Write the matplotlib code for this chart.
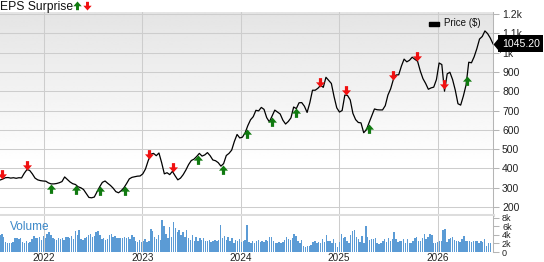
import numpy as np
import pandas as pd
import matplotlib
matplotlib.use('Agg')
import matplotlib.pyplot as plt
import matplotlib.dates as mdates
from matplotlib.path import Path
from matplotlib.markers import MarkerStyle
from matplotlib.lines import Line2D
from matplotlib.patches import Rectangle

plt.rcParams['font.family'] = ['Liberation Sans', 'DejaVu Sans']

# ---------------- data ----------------
price_start = '2021-07-22'
price_step = '10D'
price = [
    340, 345, 352, 353, 350, 352, 349, 352, 351, 375,
    394, 390, 372, 350, 341, 337, 335, 334, 325, 320,
    320, 322, 326, 332, 356, 343, 330, 321, 317, 305,
    300, 291, 270, 250, 248, 252, 278, 305, 328, 335,
    323, 312, 298, 280, 274, 285, 300, 322, 346, 354,
    357, 360, 361, 372, 397, 440, 474, 478, 466, 480,
    430, 372, 378, 368, 385, 362, 341, 350, 368, 392,
    420, 441, 448, 462, 478, 464, 470, 482, 466, 444,
    440, 430, 412, 425, 467, 478, 495, 540, 576, 558,
    562, 585, 622, 652, 668, 701, 698, 716, 706, 663,
    641, 672, 702, 692, 682, 650, 630, 643, 662, 718,
    710, 740, 741, 722, 690, 740, 805, 805, 815, 830,
    820, 872, 856, 840, 772, 714, 692, 700, 780, 778,
    755, 685, 653, 638, 636, 585, 600, 637, 672, 708,
    704, 703, 703, 725, 780, 812, 860, 884, 885, 930,
    966, 952, 960, 976, 965, 955, 905, 865, 840, 810,
    817, 821, 860, 946, 938, 800, 890, 898, 860, 805,
    735, 728, 775, 832, 950, 947, 978, 1020, 1070, 1083,
    1112, 1098, 1075, 1045.2,
]

volume_start = '2021-07-22'
volume_step = '7D'
volume_k = [
    4.0, 4.3, 3.6, 2.4, 2.2, 2.1, 2.0, 2.3, 3.2, 3.4,
    3.1, 3.3, 2.4, 2.2, 2.6, 2.1, 2.3, 3.0, 3.8, 3.2,
    3.4, 3.6, 2.9, 3.7, 3.3, 4.2, 4.6, 3.9, 3.2, 3.0,
    2.9, 3.2, 3.0, 3.4, 2.8, 3.5, 3.6, 3.3, 3.8, 3.1,
    5.0, 4.1, 5.2, 3.0, 2.9, 3.4, 3.6, 3.9, 4.2, 3.5,
    3.8, 4.8, 5.0, 3.9, 3.0, 3.2, 2.8, 3.1, 4.0, 4.2,
    3.6, 3.7, 3.2, 3.3, 3.4, 3.2, 3.5, 3.3, 3.6, 3.0,
    3.9, 3.6, 2.7, 2.3, 2.8, 2.4, 2.5, 3.1, 2.3, 2.6,
    5.3, 5.0, 3.5, 3.1, 3.9, 2.9, 7.6, 6.0, 4.2, 3.3,
    5.9, 3.6, 7.1, 5.6, 4.6, 5.2, 3.9, 4.6, 3.6, 5.1,
    3.4, 2.8, 3.9, 2.6, 3.5, 2.7, 3.2, 2.9, 3.4, 2.6,
    2.5, 2.8, 2.4, 2.6, 2.9, 2.7, 2.8, 6.3, 3.2, 3.7,
    2.9, 3.5, 2.6, 3.4, 2.2, 2.9, 2.5, 3.0, 2.3, 2.6,
    2.8, 6.3, 2.4, 2.2, 2.6, 2.1, 2.5, 2.8, 2.3, 2.7,
    2.4, 2.9, 2.6, 3.5,
    3.5, 2.6, 2.0, 2.1, 2.3, 2.0, 2.4, 2.8, 3.5, 3.1,
    2.9, 3.4, 4.3, 3.8, 2.6, 2.0, 2.8, 1.5, 1.2, 1.4,
    1.5, 1.7, 2.3, 2.5, 2.2, 2.3, 2.1, 3.1, 2.4, 3.9,
    2.6, 2.5, 2.0, 3.0, 2.1, 1.2, 2.4, 4.3, 3.2, 3.6,
    2.7, 2.2, 3.9, 4.9, 5.2, 3.5, 3.0, 2.4, 3.7, 2.2,
    6.2, 3.6, 2.8, 3.1, 3.0, 3.2, 2.0, 1.8, 2.2, 2.5,
    3.0, 2.4, 3.4, 2.6, 3.0, 4.6, 3.1, 2.3, 2.7, 2.5,
    3.0, 2.2, 3.1, 2.0, 2.2, 2.6, 3.3, 3.6, 2.7, 2.6,
    3.4, 4.3, 3.1, 3.6, 4.2, 4.0, 2.2, 2.1, 2.4, 2.6,
    2.7, 5.2, 5.4, 2.3, 3.1, 3.3, 3.6, 2.8, 2.6, 2.5,
    2.3, 3.0, 3.8, 2.7, 2.5, 2.6, 2.3, 2.5, 2.7, 2.6,
    2.2, 2.6, 2.3, 3.0, 1.5, 2.1, 2.2,
]

eps_dates = [
    '2021-07-29', '2021-10-30', '2022-01-27', '2022-04-30', '2022-07-28',
    '2022-10-28', '2023-01-25', '2023-04-24', '2023-07-26', '2023-10-26',
    '2024-01-23', '2024-04-25', '2024-07-23', '2024-10-20', '2025-01-28',
    '2025-04-20', '2025-07-21', '2025-10-18', '2026-01-26', '2026-04-21',
]
eps_result = [
    'miss', 'miss', 'beat', 'beat', 'beat',
    'beat', 'miss', 'miss', 'beat', 'beat',
    'beat', 'beat', 'beat', 'miss', 'miss',
    'beat', 'miss', 'miss', 'miss', 'beat',
]

price_ticks = [200, 300, 400, 500, 600, 700, 800, 900, 1000, 1100, 1200]
price_tick_labels = ['200', '300', '400', '500', '600', '700', '800', '900', '1k', '1.1k', '1.2k']
vol_ticks = [0, 2, 4, 6, 8]
vol_tick_labels = ['0', '2k', '4k', '6k', '8k']
last_label = '1045.20'

# ---------------- figure ----------------
W, H = 544, 262
fig = plt.figure(figsize=(W / 100, H / 100), dpi=100)

def fy(py):
    return 1 - py / H

ax = fig.add_axes([0, fy(215), 493 / W, (215 - 12) / H])
axv = fig.add_axes([0, fy(252), 493 / W, (252 - 216) / H], sharex=ax)

dates = pd.date_range(price_start, periods=len(price), freq=price_step)
vdates = pd.date_range(volume_start, periods=len(volume_k), freq=volume_step)

ax.plot(dates, price, color='black', lw=0.9, zorder=3, solid_joinstyle='round')

# gradient background
grad = np.concatenate([np.linspace(0.895, 1.0, 75), np.ones(25)]).reshape(-1, 1)
ax.imshow(grad, cmap='gray', vmin=0, vmax=1, aspect='auto', extent=[0, 1, 0, 1],
          transform=ax.transAxes, zorder=0, interpolation='bilinear')

# EPS markers
down_verts = [(0, 0), (0.48, 0.55), (0.17, 0.55), (0.17, 1.0), (-0.17, 1.0),
              (-0.17, 0.55), (-0.48, 0.55), (0, 0)]
codes = [Path.MOVETO] + [Path.LINETO] * 6 + [Path.CLOSEPOLY]
down_path = Path(down_verts, codes)
up_path = Path([(x, -y) for x, y in down_verts], codes)
red, green = '#f01010', '#107a10'
mk_size = 13.5

dnum = mdates.date2num(dates)
for d, r in zip(eps_dates, eps_result):
    dn = mdates.date2num(pd.Timestamp(d))
    yv = np.interp(dn, dnum, price)
    if r == 'miss':
        ax.plot([dn], [yv], ls='none', marker=MarkerStyle(down_path), ms=mk_size,
                color=red, mew=0, zorder=4)
    else:
        ax.plot([dn], [yv], ls='none', marker=MarkerStyle(up_path), ms=mk_size,
                color=green, mew=0, zorder=4)

ax.set_xlim(dates[0], dates[-1])
ax.set_ylim(159, 1210)

ax.yaxis.tick_right()
ax.set_yticks(price_ticks, price_tick_labels)
ax.tick_params(axis='y', length=4.5, width=0.75, color='#b5b5b5', labelsize=7.5,
               labelcolor='#222222', pad=2)
ax.tick_params(axis='x', bottom=False, labelbottom=False)
ax.grid(True, color='#cdcdcd', lw=0.75)
ax.set_axisbelow(True)
for s in ['left', 'top']:
    ax.spines[s].set_visible(False)
ax.spines['right'].set_color('#b5b5b5')
ax.spines['right'].set_linewidth(0.75)
ax.spines['bottom'].set_color('#dddddd')
ax.spines['bottom'].set_linewidth(2.2)

# legend
ax.add_patch(Rectangle((429 / 493, (215 - 25.5) / 203), 10 / 493, 4 / 203,
                       transform=ax.transAxes, color='black', zorder=5))
ax.text(444 / 493, (215 - 23.5) / 203, 'Price ($)', transform=ax.transAxes,
        fontsize=7, va='center', ha='left', color='#111111', zorder=5)

# last price tag
last = price[-1]
tri = Path([(0, 0), (1, -1.2), (1, 1.2), (0, 0)],
           [Path.MOVETO, Path.LINETO, Path.LINETO, Path.CLOSEPOLY])
ax.plot([1.0], [last], transform=ax.get_yaxis_transform(), marker=MarkerStyle(tri),
        ms=12.5, color='black', mew=0, clip_on=False, zorder=10)
ax.annotate(last_label, xy=(1.0, last), xycoords=ax.get_yaxis_transform(),
            xytext=(6.3, 0), textcoords='offset points', ha='left', va='center',
            fontsize=7.6, color='white', zorder=11, annotation_clip=False,
            bbox=dict(boxstyle='square,pad=0.32', fc='black', ec='black', lw=0))

# volume panel
axv.bar(vdates, volume_k, width=5.3, color='#5b9bd5', zorder=2)
axv.set_ylim(0, 8.47)
axv.yaxis.tick_right()
axv.set_yticks(vol_ticks, vol_tick_labels)
axv.tick_params(axis='y', length=4.5, width=0.75, color='#b5b5b5', labelsize=6.5,
                labelcolor='#222222', pad=2)
axv.xaxis.set_major_locator(mdates.YearLocator())
axv.xaxis.set_major_formatter(mdates.DateFormatter('%Y'))
axv.tick_params(axis='x', length=0, labelsize=7.2, labelcolor='#222222', pad=0.8)
axv.grid(True, axis='x', color='#cdcdcd', lw=0.75)
axv.set_axisbelow(True)
for s in ['left', 'top', 'bottom']:
    axv.spines[s].set_visible(False)
axv.spines['right'].set_color('#b5b5b5')
axv.spines['right'].set_linewidth(0.75)
axv.text(10 / 493, 0.70, 'Volume', transform=axv.transAxes, fontsize=8.5,
         color='#3a87c8', va='center', ha='left', zorder=5)
axv.set_xlim(dates[0], dates[-1])

# title with arrows
fig.text(0, fy(10), 'EPS Surprise', fontsize=8.7, ha='left', va='baseline', color='#111111')
fig.add_artist(Line2D([76.5 / W], [fy(1)], transform=fig.transFigure, ls='none',
                      marker=MarkerStyle(up_path), ms=12.5, color=green, mew=0))
fig.add_artist(Line2D([86.5 / W], [fy(10)], transform=fig.transFigure, ls='none',
                      marker=MarkerStyle(down_path), ms=12.5, color=red, mew=0))

fig.savefig('out.png', dpi=100)
